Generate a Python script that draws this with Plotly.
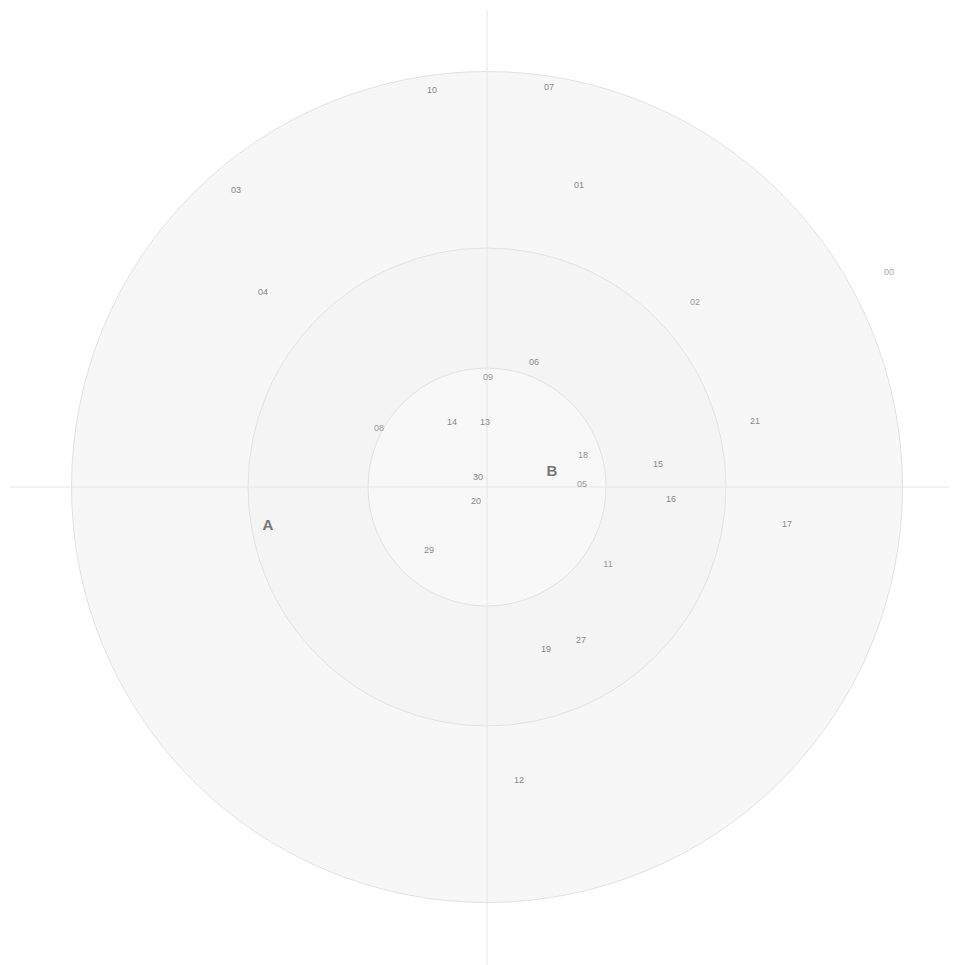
import plotly.graph_objects as go

# Data (units: pixel-like distance from center, y up)
labels = ["10", "07", "03", "01", "00", "04", "02", "06", "09", "08", "14", "13",
          "21", "18", "15", "30", "05", "20", "16", "17", "29", "11", "27", "19", "12"]
x_vals = [-55, 62, -251, 92, 402, -224, 208, 47, 1, -108, -35, -2,
          268, 96, 171, -9, 95, -11, 184, 300, -58, 121, 94, 59, 32]
y_vals = [396, 399, 296, 301, 214, 194, 184, 124, 109, 58, 64, 64,
          65, 31, 22, 9, 2, -15, -13, -38, -64, -78, -154, -163, -294]
label_colors = ["#888", "#888", "#888", "#888", "#aaa", "#888", "#999", "#888", "#999", "#9a9a9a",
                "#888", "#888", "#888", "#999", "#888", "#888", "#999", "#888", "#888", "#888",
                "#888", "#999", "#888", "#888", "#888"]

group_labels = ["A", "B"]
group_x = [-219, 65]
group_y = [-39, 15]

ring_radii = [415.5, 239, 119]
ring_fills = ["#f7f7f7", "#f4f4f4", "#f8f8f8"]

PAGE_OFF = 8          # default body margin of the html page
W, H = 957 - PAGE_OFF, 965 - PAGE_OFF
CX, CY = 487 - PAGE_OFF, 487 - PAGE_OFF

fig = go.Figure()

shapes = []
for r, c in zip(ring_radii, ring_fills):
    shapes.append(dict(type="circle", xref="x", yref="y", x0=-r, x1=r, y0=-r, y1=r,
                       fillcolor=c, line=dict(color="#e2e2e2", width=1), layer="below"))
# axis cross lines
shapes.append(dict(type="line", xref="x", yref="y", x0=10 - PAGE_OFF - CX, x1=W - CX, y0=0, y1=0,
                   line=dict(color="#e6e6e6", width=1), layer="below"))
shapes.append(dict(type="line", xref="x", yref="y", x0=0, x1=0, y0=CY - (10 - PAGE_OFF), y1=CY - H,
                   line=dict(color="#e6e6e6", width=1), layer="below"))

fig.add_trace(go.Scatter(x=x_vals, y=y_vals, mode="text", text=labels,
                         textfont=dict(family="Liberation Sans, Arial, sans-serif", size=9,
                                       color=label_colors),
                         hoverinfo="text", showlegend=False))
fig.add_trace(go.Scatter(x=group_x, y=group_y, mode="text", text=group_labels,
                         textfont=dict(family="Liberation Sans, Arial, sans-serif", size=15,
                                       color="#777", weight="bold"),
                         hoverinfo="text", showlegend=False))

fig.update_layout(
    width=W, height=H,
    margin=dict(l=0, r=0, t=0, b=0),
    paper_bgcolor="white", plot_bgcolor="white",
    shapes=shapes,
    xaxis=dict(range=[-CX, W - CX], visible=False, fixedrange=True),
    yaxis=dict(range=[CY - H, CY], visible=False, fixedrange=True),
    showlegend=False,
)

fig.write_html("out.html")
